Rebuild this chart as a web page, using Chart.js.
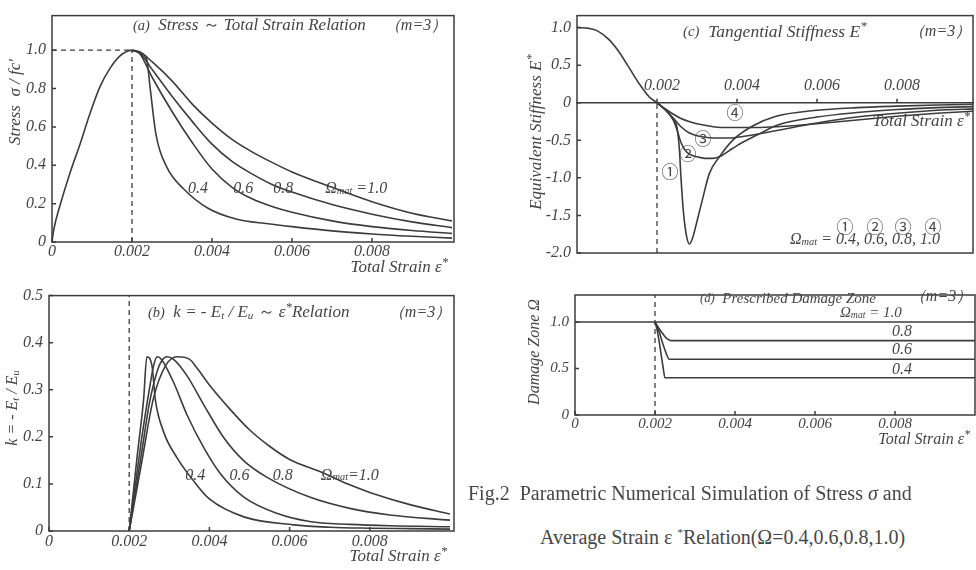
<!DOCTYPE html>
<html>
<head>
<meta charset="utf-8">
<script src="https://cdn.jsdelivr.net/npm/chart.js@4.4.1/dist/chart.umd.min.js"></script>
<style>
  body { margin: 0; width: 976px; height: 570px; overflow: hidden; background: #fff; position: relative; }
  canvas { position: absolute; }
  .cap { position: absolute; font: 20px "Liberation Serif", serif; color: #474747; white-space: nowrap; }
</style>
</head>
<body>
<canvas id="chartA" width="470" height="280" style="left:0;top:0"></canvas>
<canvas id="chartB" width="470" height="290" style="left:0;top:280px"></canvas>
<canvas id="chartC" width="486" height="280" style="left:490px;top:0"></canvas>
<canvas id="chartD" width="486" height="170" style="left:490px;top:280px"></canvas>
<div class="cap" style="left:468px;top:482px">Fig.2&nbsp;&nbsp;Parametric Numerical Simulation of Stress <i>σ</i> and</div>
<div class="cap" style="left:540px;top:526px">Average Strain ε <sup style="font-size:11px">*</sup>Relation(Ω=0.4,0.6,0.8,1.0)</div>
<script>
const INK = '#3c3c3c';
const TXT = '#454545';
const SERIF = '"Liberation Serif", "DejaVu Serif", serif';

// (a) stress ~ total strain
const riseStrainA = [0, 0.00004, 0.0002, 0.00045, 0.0007, 0.00095, 0.0012, 0.00145, 0.0017, 0.0019, 0.002];
const riseStressA = [0, 0.06, 0.19, 0.36, 0.51, 0.67, 0.81, 0.905, 0.97, 0.995, 1.0];
const strainA = [0.002, 0.0022, 0.0025, 0.003, 0.0035, 0.004, 0.0045, 0.005, 0.0055, 0.006, 0.007, 0.008, 0.009, 0.01];
const stressA10 = [1.0, 0.99, 0.94, 0.84, 0.72, 0.62, 0.535, 0.47, 0.415, 0.365, 0.285, 0.21, 0.15, 0.11];
const stressA08 = [1.0, 0.985, 0.9, 0.76, 0.63, 0.51, 0.42, 0.355, 0.3, 0.26, 0.195, 0.145, 0.105, 0.075];
const stressA06 = [1.0, 0.98, 0.86, 0.68, 0.52, 0.38, 0.285, 0.225, 0.185, 0.155, 0.11, 0.08, 0.06, 0.045];
const strainA04 = [0.002, 0.0022, 0.00237, 0.00245, 0.0026, 0.00287, 0.0033, 0.0039, 0.0046, 0.0054, 0.006, 0.007, 0.008, 0.009, 0.01];
const stressA04 = [1.0, 0.985, 0.95, 0.81, 0.56, 0.39, 0.275, 0.176, 0.12, 0.095, 0.08, 0.058, 0.042, 0.03, 0.02];

// (b) k = -Et/Eu ~ strain
const strainB04 = [0.002, 0.0022, 0.00236, 0.00244, 0.00257, 0.00265, 0.00286, 0.00319, 0.0036, 0.004, 0.00486, 0.0061, 0.007, 0.008, 0.009, 0.01];
const kB04 = [0, 0.16, 0.28, 0.37, 0.35, 0.28, 0.21, 0.156, 0.107, 0.068, 0.03, 0.013, 0.008, 0.006, 0.005, 0.004];
const strainB06 = [0.002, 0.0023, 0.0025, 0.00262, 0.0027, 0.0028, 0.0031, 0.00344, 0.00386, 0.00428, 0.00486, 0.0057, 0.0065, 0.0075, 0.0085, 0.01];
const kB06 = [0, 0.19, 0.3, 0.355, 0.37, 0.365, 0.317, 0.247, 0.177, 0.121, 0.072, 0.037, 0.02, 0.014, 0.011, 0.009];
const strainB08 = [0.002, 0.0023, 0.0025, 0.0027, 0.0028, 0.00294, 0.0031, 0.00344, 0.00386, 0.00436, 0.00486, 0.00544, 0.0065, 0.0075, 0.0085, 0.01];
const kB08 = [0, 0.16, 0.27, 0.34, 0.36, 0.37, 0.365, 0.33, 0.268, 0.198, 0.149, 0.114, 0.072, 0.048, 0.034, 0.023];
const strainB10 = [0.002, 0.0023, 0.0026, 0.0029, 0.0032, 0.0035, 0.0037, 0.004, 0.0045, 0.005, 0.0055, 0.006, 0.0068, 0.0075, 0.008, 0.009, 0.01];
const kB10 = [0, 0.14, 0.28, 0.35, 0.37, 0.365, 0.345, 0.31, 0.26, 0.215, 0.18, 0.152, 0.125, 0.098, 0.082, 0.056, 0.036];

// (c) tangential stiffness
const riseStrainC = [0, 0.0003, 0.0005, 0.0008, 0.00106, 0.00131, 0.00156, 0.00181, 0.002];
const stiffRiseC = [1.0, 0.99, 0.96, 0.84, 0.67, 0.46, 0.25, 0.076, 0];
const strainC1 = [0.002, 0.0022, 0.0024, 0.0025, 0.00256, 0.0026, 0.00266, 0.00274, 0.00281, 0.00289, 0.00298, 0.00314, 0.00331, 0.00356, 0.00389, 0.00439, 0.00498, 0.006, 0.007, 0.008, 0.009, 0.01];
const stiffC1 = [0, -0.09, -0.22, -0.33, -0.62, -1.0, -1.45, -1.78, -1.88, -1.8, -1.62, -1.28, -0.94, -0.72, -0.5, -0.31, -0.18, -0.1, -0.065, -0.045, -0.03, -0.02];
const strainC2 = [0.002, 0.0022, 0.0024, 0.0025, 0.0026, 0.0027, 0.0028, 0.003, 0.0032, 0.0034, 0.0036, 0.0038, 0.004, 0.0045, 0.005, 0.006, 0.007, 0.008, 0.009, 0.01];
const stiffC2 = [0, -0.09, -0.22, -0.36, -0.53, -0.63, -0.68, -0.72, -0.74, -0.74, -0.71, -0.64, -0.57, -0.43, -0.3, -0.19, -0.13, -0.09, -0.065, -0.05];
const strainC34 = [0.002, 0.0022, 0.0024, 0.0026, 0.0028, 0.003, 0.0032, 0.0034, 0.0036, 0.0038, 0.004, 0.0045, 0.005, 0.006, 0.007, 0.008, 0.009, 0.01];
const stiffC3 = [0, -0.09, -0.2, -0.32, -0.4, -0.44, -0.46, -0.47, -0.47, -0.47, -0.46, -0.42, -0.37, -0.27, -0.19, -0.14, -0.1, -0.08];
const stiffC4 = [0, -0.08, -0.15, -0.21, -0.25, -0.28, -0.3, -0.32, -0.33, -0.33, -0.33, -0.33, -0.32, -0.28, -0.23, -0.18, -0.14, -0.11];

// (d) prescribed damage zone
const strainD10 = [0, 0.01];
const omegaD10 = [1.0, 1.0];
const strainD08 = [0.002, 0.0021, 0.0022, 0.0023, 0.0024, 0.01];
const omegaD08 = [1.0, 0.93, 0.87, 0.82, 0.8, 0.8];
const strainD06 = [0.002, 0.0021, 0.0022, 0.0023, 0.00235, 0.01];
const omegaD06 = [1.0, 0.9, 0.76, 0.64, 0.6, 0.6];
const strainD04 = [0.002, 0.00205, 0.0021, 0.0022, 0.00225, 0.01];
const omegaD04 = [1.0, 0.92, 0.8, 0.52, 0.4, 0.4];

// ticks
const xTicks = [0, 0.002, 0.004, 0.006, 0.008];
const xTickLabels = ['0', '0.002', '0.004', '0.006', '0.008'];
const xTicksC = [0.002, 0.004, 0.006, 0.008];
const xTickLabelsC = ['0.002', '0.004', '0.006', '0.008'];
const yTicksA = [0, 0.2, 0.4, 0.6, 0.8, 1.0];
const yTickLabelsA = ['0', '0.2', '0.4', '0.6', '0.8', '1.0'];
const yTicksB = [0, 0.1, 0.2, 0.3, 0.4, 0.5];
const yTickLabelsB = ['0', '0.1', '0.2', '0.3', '0.4', '0.5'];
const yTicksC = [-2, -1.5, -1, -0.5, 0, 0.5, 1.0];
const yTickLabelsC = ['-2.0', '-1.5', '-1.0', '-0.5', '0', '0.5', '1.0'];
const yTicksD = [0, 0.5, 1.0];
const yTickLabelsD = ['0', '0.5', '1.0'];

function pts(xs, ys) {
    return xs.map((v, i) => ({ x: v, y: ys[i] }));
}

function curve(xs, ys) {
    return { data: pts(xs, ys), borderColor: INK, borderWidth: 1.6, pointRadius: 0, showLine: true, cubicInterpolationMode: 'monotone' };
}

function dashed(xs, ys) {
    return { data: pts(xs, ys), borderColor: INK, borderWidth: 1.3, borderDash: [5, 4], pointRadius: 0, showLine: true };
}

function tickFont(size) {
    return { family: SERIF, size: size, style: 'italic' };
}

// rich text: strings or {t, s (scale), dy, it (italic), f (family)}
function drawRich(ctx, parts, x, y, align, size) {
    const segs = parts.map(p => typeof p === 'string' ? { t: p } : p);
    let w = 0;
    segs.forEach(g => {
        ctx.font = (g.it === false ? '' : 'italic ') + (size * (g.s || 1)) + 'px ' + (g.f || SERIF);
        g.w = ctx.measureText(g.t).width;
        w += g.w;
    });
    let cx = align === 'right' ? x - w : align === 'center' ? x - w / 2 : x;
    segs.forEach(g => {
        ctx.font = (g.it === false ? '' : 'italic ') + (size * (g.s || 1)) + 'px ' + (g.f || SERIF);
        ctx.fillText(g.t, cx, y + (g.dy || 0));
        cx += g.w;
    });
}

// box, inward tick marks and text notes
function framePlugin(notes, ticksAtZero) {
    return {
        id: 'frame',
        afterDatasetsDraw(chart) {
            const ctx = chart.ctx, a = chart.chartArea, xs = chart.scales.x, ys = chart.scales.y;
            ctx.save();
            ctx.strokeStyle = INK;
            ctx.lineWidth = 1.5;
            ctx.strokeRect(a.left, a.top, a.right - a.left, a.bottom - a.top);
            ctx.beginPath();
            const base = ticksAtZero ? ys.getPixelForValue(0) : a.bottom;
            xs.ticks.forEach(t => {
                const p = xs.getPixelForValue(t.value);
                ctx.moveTo(p, base);
                ctx.lineTo(p, base - 4);
            });
            ys.ticks.forEach(t => {
                const p = ys.getPixelForValue(t.value);
                ctx.moveTo(a.left, p);
                ctx.lineTo(a.left + 4, p);
            });
            ctx.stroke();
            ctx.fillStyle = TXT;
            ctx.textBaseline = 'middle';
            ctx.textAlign = 'left';
            notes.forEach(n => {
                const px = n.x !== undefined ? xs.getPixelForValue(n.x) : n.px;
                const py = n.y !== undefined ? ys.getPixelForValue(n.y) : n.py;
                if (n.rot) {
                    ctx.save();
                    ctx.translate(px, py);
                    ctx.rotate(-Math.PI / 2);
                    drawRich(ctx, n.parts, 0, 0, 'center', n.size || 16);
                    ctx.restore();
                } else {
                    drawRich(ctx, n.parts, px, py, n.align || 'left', n.size || 16);
                }
            });
            ctx.restore();
        }
    };
}

function makeScales(c) {
    return {
        x: {
            type: 'linear', min: 0, max: c.xMax,
            position: c.xAtZero ? { y: 0 } : 'bottom',
            afterBuildTicks: s => { s.ticks = c.xTicks.map(v => ({ value: v })); },
            afterFit: s => { if (!c.xAtZero) s.height = c.xH; },
            ticks: {
                autoSkip: false, maxRotation: 0, padding: c.xPad, labelOffset: c.xOff || 0, color: TXT, font: tickFont(c.fs),
                callback: v => c.xLabels[c.xTicks.indexOf(v)]
            },
            grid: { display: false, drawTicks: false },
            border: { display: !!c.xAtZero, color: INK, width: 1.5 }
        },
        y: {
            type: 'linear', min: c.yMin, max: c.yMax,
            afterBuildTicks: s => { s.ticks = c.yTicks.map(v => ({ value: v })); },
            afterFit: s => { s.width = c.yW; },
            ticks: {
                autoSkip: false, padding: 6, color: TXT, font: tickFont(c.fs),
                callback: v => c.yLabels[c.yTicks.indexOf(v)]
            },
            grid: { display: false, drawTicks: false },
            border: { display: false }
        }
    };
}

function makeChart(id, datasets, scales, padding, plugin) {
    return new Chart(document.getElementById(id), {
        type: 'scatter',
        data: { datasets: datasets },
        options: {
            responsive: false,
            animation: false,
            layout: { padding: padding },
            plugins: { legend: { display: false }, tooltip: { enabled: false } },
            scales: scales
        },
        plugins: [plugin]
    });
}

const omegaMat = ['Ω', { t: 'mat', s: 0.65, dy: 2 }];
const strainTitle = ['Total Strain ε', { t: '*', s: 0.75, dy: -5 }];

// (a)
makeChart('chartA', [
    curve(riseStrainA, riseStressA),
    curve(strainA, stressA10),
    curve(strainA, stressA08),
    curve(strainA, stressA06),
    curve(strainA04, stressA04),
    dashed([0.002, 0.002], [0, 1.0]),
    dashed([0, 0.002], [1.0, 1.0])
], makeScales({ xMax: 0.01005, xTicks: xTicks, xLabels: xTickLabels, xH: 38, xPad: 0, fs: 16,
    yMin: 0, yMax: 1.18, yTicks: yTicksA, yLabels: yTickLabelsA, yW: 52 }),
    { left: 0, top: 4, right: 16, bottom: 0 },
    framePlugin([
        { px: 133, py: 26, size: 17, parts: [{ t: '(a)', s: 0.85 }, '  Stress ', { t: '～', it: false }, ' Total Strain Relation'] },
        { px: 416, py: 26, align: 'center', parts: ['（m=3）'] },
        { x: 0.0034, y: 0.275, parts: ['0.4'] },
        { x: 0.00453, y: 0.275, parts: ['0.6'] },
        { x: 0.00553, y: 0.275, parts: ['0.8'] },
        { x: 0.00683, y: 0.275, parts: omegaMat.concat([' =1.0']) },
        { px: 448, py: 268, align: 'right', size: 17, parts: strainTitle },
        { px: 16, py: 102, rot: true, size: 17, parts: ['Stress  σ / fc\''] }
    ], false));

// (b)
makeChart('chartB', [
    curve(strainB04, kB04),
    curve(strainB06, kB06),
    curve(strainB08, kB08),
    curve(strainB10, kB10),
    dashed([0.002, 0.002], [0, 0.5])
], makeScales({ xMax: 0.0101, xTicks: xTicks, xLabels: xTickLabels, xH: 39, xPad: 1, fs: 16,
    yMin: 0, yMax: 0.5, yTicks: yTicksB, yLabels: yTickLabelsB, yW: 49 }),
    { left: 0, top: 13, right: 16, bottom: 0 },
    framePlugin([
        { px: 148, py: 33, size: 17, parts: [{ t: '(b)', s: 0.85 }, '  k = - E', { t: 't', s: 0.65, dy: 3 }, ' / E', { t: 'u', s: 0.65, dy: 3 }, ' ', { t: '～', it: false }, ' ε', { t: '*', s: 0.75, dy: -5 }, 'Relation'] },
        { px: 420, py: 33, align: 'center', parts: ['（m=3）'] },
        { x: 0.0034, y: 0.118, parts: ['0.4'] },
        { x: 0.0045, y: 0.118, parts: ['0.6'] },
        { x: 0.00558, y: 0.118, parts: ['0.8'] },
        { x: 0.00678, y: 0.118, parts: omegaMat.concat(['=1.0']) },
        { px: 447, py: 277, align: 'right', size: 17, parts: strainTitle },
        { px: 13, py: 128, rot: true, parts: ['k = - E', { t: 't', s: 0.65, dy: 3 }, ' / E', { t: 'u', s: 0.65, dy: 3 }] }
    ], false));

// (c)
const circ = d => ({ t: d, it: false, f: '"Noto Sans CJK JP"' });
makeChart('chartC', [
    curve(riseStrainC, stiffRiseC),
    curve(strainC1, stiffC1),
    curve(strainC2, stiffC2),
    curve(strainC34, stiffC3),
    curve(strainC34, stiffC4),
    dashed([0.002, 0.002], [-2.0, 0])
], makeScales({ xMax: 0.0099, xAtZero: true, xTicks: xTicksC, xLabels: xTickLabelsC, xPad: -27, xOff: 5, fs: 16,
    yMin: -2.0, yMax: 1.16, yTicks: yTicksC, yLabels: yTickLabelsC, yW: 87 }),
    { left: 0, top: 5, right: 3, bottom: 27 },
    framePlugin([
        { px: 193, py: 32, size: 17.5, parts: [{ t: '(c)', s: 0.85 }, '  Tangential Stiffness E', { t: '*', s: 0.75, dy: -5 }] },
        { px: 450, py: 32, align: 'center', parts: ['（m=3）'] },
        { px: 180, py: 172, align: 'center', size: 17, parts: [circ('①')] },
        { px: 198, py: 154, align: 'center', size: 17, parts: [circ('②')] },
        { px: 213, py: 139, align: 'center', size: 17, parts: [circ('③')] },
        { px: 245, py: 113, align: 'center', size: 17, parts: [circ('④')] },
        { px: 355, py: 227, align: 'center', size: 17, parts: [circ('①')] },
        { px: 385, py: 227, align: 'center', size: 17, parts: [circ('②')] },
        { px: 413, py: 227, align: 'center', size: 17, parts: [circ('③')] },
        { px: 443, py: 227, align: 'center', size: 17, parts: [circ('④')] },
        { px: 300, py: 240, parts: omegaMat.concat([' = 0.4, 0.6, 0.8, 1.0']) },
        { px: 480, py: 122, align: 'right', size: 17, parts: strainTitle },
        { px: 47, py: 132, rot: true, size: 17, parts: ['Equivalent Stiffness E', { t: '*', s: 0.75, dy: -5 }] }
    ], true));

// (d)
makeChart('chartD', [
    curve(strainD10, omegaD10),
    curve(strainD08, omegaD08),
    curve(strainD06, omegaD06),
    curve(strainD04, omegaD04),
    dashed([0.002, 0.002], [0, 1.29])
], makeScales({ xMax: 0.01, xTicks: xTicks, xLabels: xTickLabels, xH: 35, xPad: 0, fs: 15,
    yMin: 0, yMax: 1.29, yTicks: yTicksD, yLabels: yTickLabelsD, yW: 85 }),
    { left: 0, top: 13, right: 1, bottom: 0 },
    framePlugin([
        { px: 210, py: 19, size: 15, parts: [{ t: '(d)', s: 0.85 }, '  Prescribed Damage Zone'] },
        { px: 451, py: 17, align: 'center', parts: ['（m=3）'] },
        { px: 350, py: 33, size: 15, parts: omegaMat.concat([' = 1.0']) },
        { px: 412, py: 52, align: 'center', parts: ['0.8'] },
        { px: 412, py: 70, align: 'center', parts: ['0.6'] },
        { px: 412, py: 90, align: 'center', parts: ['0.4'] },
        { px: 480, py: 160, align: 'right', parts: strainTitle },
        { px: 45, py: 72, rot: true, parts: ['Damage Zone Ω'] }
    ], false));
</script>
</body>
</html>
